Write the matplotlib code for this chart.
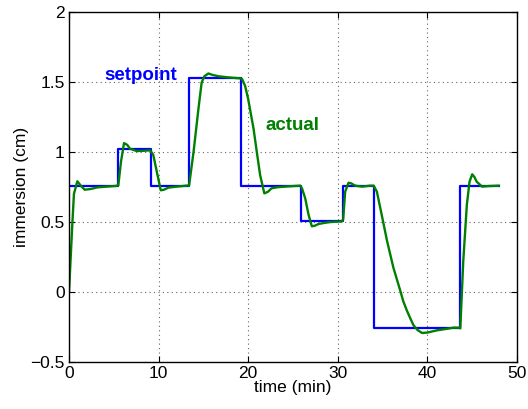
import matplotlib.pyplot as plt

# setpoint step times and levels (step-post)
sp_t = [0, 5.5, 9.1, 13.4, 19.2, 25.9, 30.6, 34.0, 43.6, 48.0]
sp_y = [0.76, 1.02, 0.76, 1.525, 0.76, 0.505, 0.76, -0.255, 0.76, 0.76]

act_t = [0, 0.35, 0.55, 0.93, 1.3, 1.75, 2.4, 3.2, 4.2, 5.2, 5.5,
         5.8, 6.14, 6.5, 6.8, 7.56, 8.3, 9.05, 9.4, 9.8, 10.24, 10.6, 11.1, 12.0, 13.1, 13.4,
         13.9, 14.44, 14.8, 15.1, 15.56, 16.0, 16.7, 17.8, 19.1, 19.3, 19.66, 20.0, 20.6, 20.96,
         21.33, 21.8, 22.2, 22.6, 23.3, 24.1, 25.0, 25.8, 26.0, 26.36, 26.73, 27.1, 27.4, 27.84,
         28.5, 29.15, 30.45, 30.6, 30.82, 31.2, 31.5, 31.94, 32.7, 33.6, 34.0, 34.36, 34.9, 35.5,
         36.2, 36.6, 36.97, 37.3, 37.7, 38.1, 38.45, 38.9, 39.4, 40.0, 41.07, 42.0, 42.9, 43.5,
         43.67, 44.0, 44.4, 44.7, 45.0, 45.25, 45.5, 46.1, 46.8, 47.95]
act_y = [0.0, 0.46, 0.70, 0.79, 0.76, 0.73, 0.735, 0.747, 0.752, 0.757, 0.76,
         0.93, 1.063, 1.05, 1.023, 1.006, 1.008, 1.011, 0.98, 0.858, 0.726, 0.73, 0.745, 0.752, 0.759, 0.76,
         1.0, 1.305, 1.494, 1.54, 1.56, 1.55, 1.54, 1.532, 1.525, 1.522, 1.47, 1.376, 1.164, 0.999,
         0.834, 0.704, 0.715, 0.74, 0.748, 0.752, 0.756, 0.759, 0.74, 0.669, 0.552, 0.469, 0.472, 0.485,
         0.493, 0.499, 0.504, 0.52, 0.716, 0.78, 0.775, 0.759, 0.752, 0.759, 0.759, 0.716, 0.55, 0.363,
         0.174, 0.088, 0.009, -0.065, -0.132, -0.19, -0.238, -0.272, -0.293, -0.29, -0.274, -0.265, -0.255, -0.255,
         -0.26, 0.22, 0.622, 0.787, 0.84, 0.82, 0.787, 0.752, 0.756, 0.759]

plt.rcParams['font.family'] = ['Liberation Sans', 'DejaVu Sans']
plt.rcParams['font.size'] = 12.5

fig = plt.figure(figsize=(5.28, 4.09), dpi=100)
ax = fig.add_axes([0.1307, 0.115, 0.8485, 0.856])

ax.plot(sp_t, sp_y, drawstyle='steps-post', color='#0000ff', lw=1.6)
ax.plot(act_t, act_y, color='#008000', lw=1.7)

ax.text(8.0, 1.545, 'setpoint', color='#0000ff', fontweight='bold',
        ha='center', va='center', fontsize=13.5)
ax.text(24.9, 1.19, 'actual', color='#008000', fontweight='bold',
        ha='center', va='center', fontsize=13.5)

ax.set_xlim(0, 50)
ax.set_ylim(-0.5, 2)
ax.set_xticks([0, 10, 20, 30, 40, 50])
ax.set_yticks([-0.5, 0, 0.5, 1, 1.5, 2])
ax.set_yticklabels(['\u22120.5', '0', '0.5', '1', '1.5', '2'])
ax.grid(True, linestyle=(0, (1, 3)), color='0.4', lw=0.8)
ax.tick_params(direction='in', top=True, right=True, length=4, pad=3)
for s in ax.spines.values():
    s.set_linewidth(1.0)

ax.set_xlabel('time (min)', labelpad=-1)
ax.set_ylabel('immersion (cm)', labelpad=1)

fig.savefig('out.png', dpi=100)
